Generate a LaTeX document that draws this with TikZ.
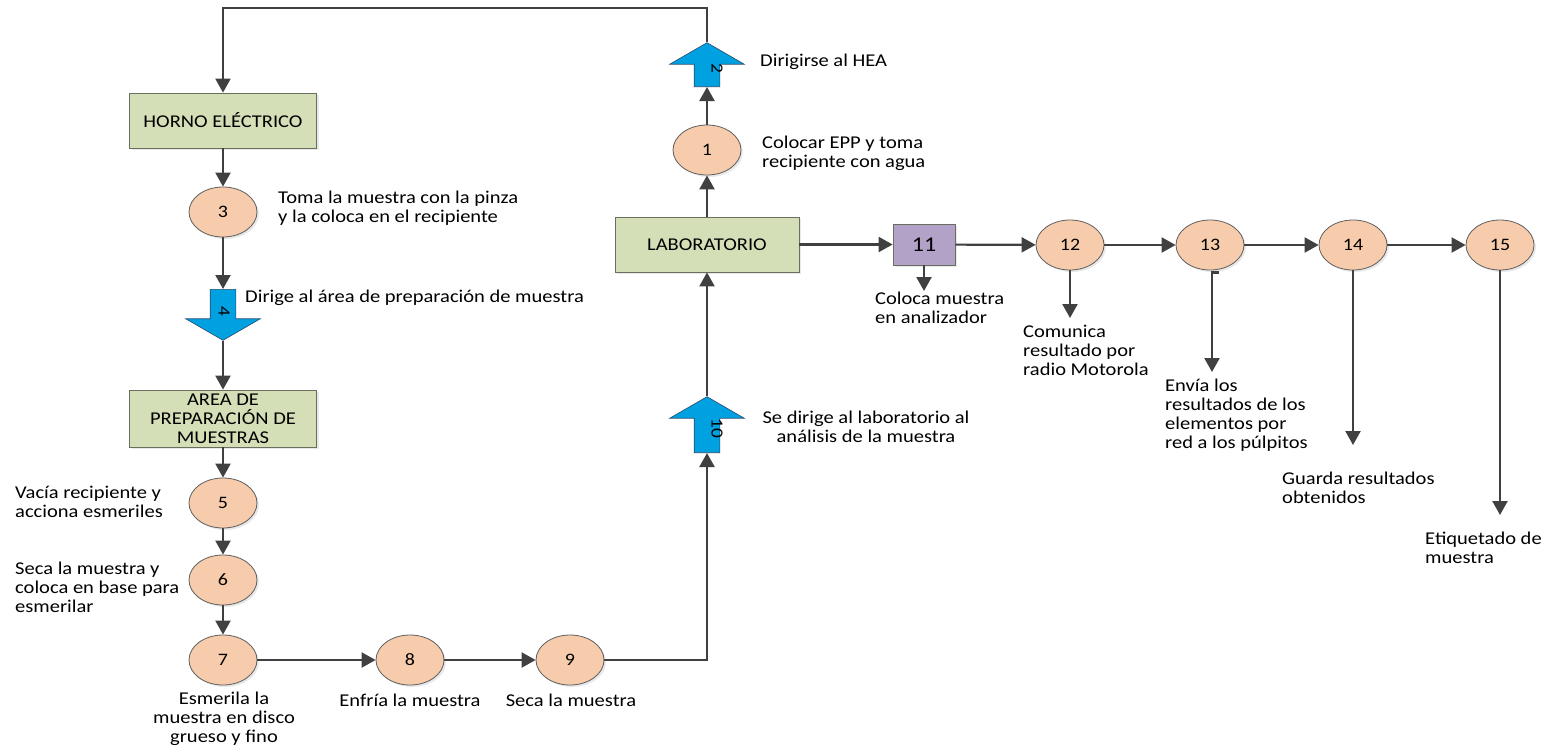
\documentclass[tikz,border=0pt]{standalone}
\usepackage{fontspec}
\setmainfont{Carlito}[FakeStretch=1.14]
\usepackage{xcolor}
\usepackage{tikz}
\usetikzlibrary{shapes.geometric, shapes.arrows, arrows.meta, positioning, calc, shadows}

\definecolor{boxgreen}{RGB}{213,223,183}
\definecolor{boxedge}{RGB}{105,110,95}
\definecolor{ovalfill}{RGB}{247,204,172}
\definecolor{ovaledge}{RGB}{95,95,95}
\definecolor{moveblue}{RGB}{0,161,224}
\definecolor{moveedge}{RGB}{40,75,110}
\definecolor{labpurple}{RGB}{178,162,199}
\definecolor{linegray}{RGB}{64,64,64}

\begin{document}
\begin{tikzpicture}[x=1pt, y=-1pt, node distance=20pt,
    every node/.style={font=\fontsize{18}{19}\selectfont},
    box/.style={rectangle, draw=boxedge, fill=boxgreen, line width=0.8pt, minimum width=187pt, minimum height=55pt, align=center, drop shadow={opacity=0.18, shadow xshift=2pt, shadow yshift=-2pt}},
    oval/.style={ellipse, draw=ovaledge, fill=ovalfill, line width=0.8pt, minimum width=68pt, minimum height=50pt, inner sep=0pt, font=\fontsize{17.5}{17.5}\selectfont, drop shadow={opacity=0.18, shadow xshift=2pt, shadow yshift=-2pt}},
    move/.style={single arrow, draw=moveedge, fill=moveblue, line width=0.6pt, single arrow head extend=24.5pt, single arrow tip angle=120, text height=9pt, text depth=0pt, inner ysep=8pt, inner xsep=2pt, font=\fontsize{17}{17}\selectfont},
    note/.style={align=left, inner sep=0pt},
    flow/.style={draw=linegray, line width=2.2pt, -{Triangle[width=15pt,length=14pt]}}
]
    \useasboundingbox (0,0) rectangle (1548,750);

    % left column
    \node [box] (horno) at (223,120.5) {HORNO ELÉCTRICO};
    \node [oval] (e3) at (223,212) {3};
    \node [move, rotate=-90, minimum height=51pt, anchor=tail] (a4) at (223,289) {4};
    \node [box, minimum height=57pt] (area) at (223,418.5) {AREA DE\\PREPARACIÓN DE\\MUESTRAS};
    \node [oval] (e5) at (223,503) {5};
    \node [oval] (e6) at (223,580) {6};
    \node [oval] (e7) at (223,660) {7};
    \node [oval] (e8) at (410,660) {8};
    \node [oval] (e9) at (570,660) {9};

    % middle column
    \node [move, rotate=90, minimum height=56pt, anchor=tail] (a10) at (707,453) {\rotatebox{180}{10}};
    \node [box, minimum width=184pt] (lab) at (707,244.5) {LABORATORIO};
    \node [oval] (e1) at (707,150) {1};
    \node [move, rotate=90, minimum height=44pt, anchor=tail] (a2) at (707,87) {\rotatebox{180}{2}};
    \coordinate (loop) at (223,8);

    % right row
    \node [box, fill=labpurple, minimum width=62pt, minimum height=41pt, font=\fontsize{21}{21}\selectfont] (n11) at (924,244.5) {11};
    \node [oval] (e12) at (1070,245) {12};
    \node [oval] (e13) at (1210,245) {13};
    \node [oval] (e14) at (1353,245) {14};
    \node [oval] (e15) at (1500,245) {15};
    \coordinate (d11) at (924,291);
    \coordinate (d12) at (1070,318);
    \coordinate (d13) at (1212,372);
    \coordinate (d14) at (1353,445);
    \coordinate (d15) at (1500,515);

    % descriptions
    \node [note, anchor=west] (t1) at (762,153) {Colocar EPP y toma\\recipiente con agua};
    \node [note, anchor=west] (t2) at (760,62) {Dirigirse al HEA};
    \node [note, anchor=west] (t3) at (278,208) {Toma la muestra con la pinza\\y la coloca en el recipiente};
    \node [note, anchor=west] (t4) at (245,298) {Dirige al área de preparación de muestra};
    \node [note, anchor=west] (t5) at (15,502) {Vacía recipiente y\\acciona esmeriles};
    \node [note, anchor=west] (t6) at (15,587) {Seca la muestra y\\coloca en base para\\esmerilar};
    \node [note, align=center] (t7) at (224,719) {Esmerila la\\muestra en disco\\grueso y fino};
    \node [note, align=center] (t8) at (410,700) {Enfría la muestra};
    \node [note, align=center] (t9) at (571,700) {Seca la muestra};
    \node [note, align=center] (t10) at (866,427) {Se dirige al laboratorio al\\análisis de la muestra};
    \node [note, anchor=west] (t11) at (875,308) {Coloca muestra\\en analizador};
    \node [note, anchor=west] (t12) at (1023,350) {Comunica\\resultado por\\radio Motorola};
    \node [note, anchor=west] (t13) at (1165,415) {Envía los\\resultados de los\\elementos por\\red a los púlpitos};
    \node [note, anchor=west] (t14) at (1282,488) {Guarda resultados\\obtenidos};
    \node [note, anchor=west] (t15) at (1425,548) {Etiquetado de\\muestra};

    % Process flow
    \path [flow] (a2.tip) |- (loop) -- (horno.north);
    \path [flow] (horno) -- (e3);
    \path [flow] (e3) -- (a4.tail);
    \path [flow] (a4.tip) -- (area);
    \path [flow] (area) -- (e5);
    \path [flow] (e5) -- (e6);
    \path [flow] (e6) -- (e7);
    \path [flow] (e7) -- (e8);
    \path [flow] (e8) -- (e9);
    \path [flow] (e9) -| (a10.tail);
    \path [flow] (a10.tip) -- (lab);
    \path [flow] (lab) -- (e1);
    \path [flow] (e1) -- (a2.tail);
    \path [flow] (lab) -- (n11);
    \path [flow] (n11) -- (e12);
    \path [flow] (e12) -- (e13);
    \path [flow] (e13) -- (e14);
    \path [flow] (e14) -- (e15);

    % Results
    \path [flow] (n11) -- (d11);
    \path [flow] (e12) -- (d12);
    \path [flow] ($(e13.south)+(9,2)$) -- ++(-7,0) -- (d13);
    \path [flow] (e14) -- (d14);
    \path [flow] (e15) -- (d15);
\end{tikzpicture}
\end{document}
